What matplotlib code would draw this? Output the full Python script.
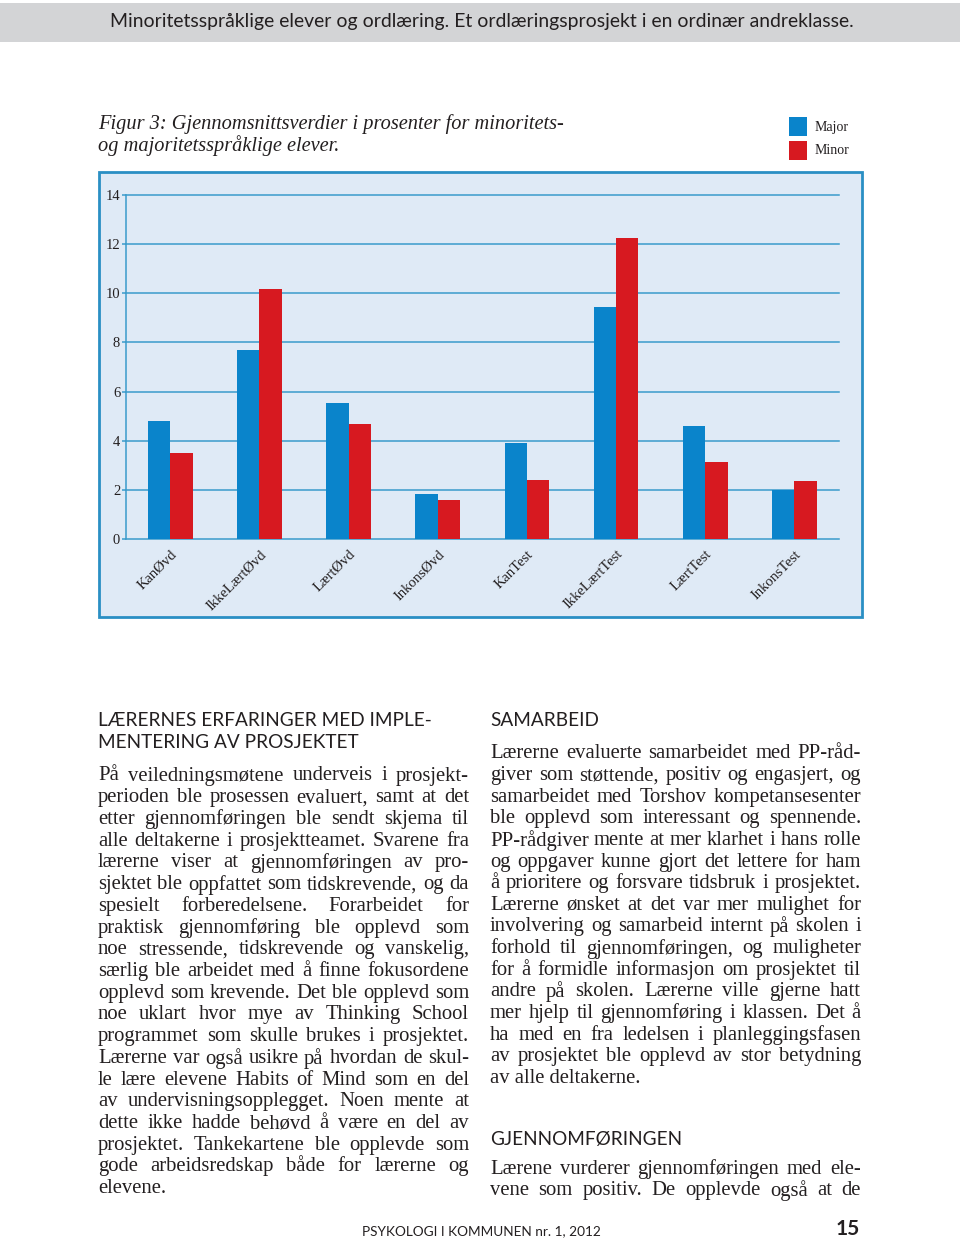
import matplotlib
matplotlib.use('Agg')
import matplotlib.pyplot as plt
import numpy as np
from matplotlib.patches import Rectangle

# ---------------- data ----------------
categories = ['KanØvd', 'IkkeLærtØvd', 'LærtØvd', 'InkonsØvd',
              'KanTest', 'IkkeLærtTest', 'LærtTest', 'InkonsTest']
major = [4.8, 7.7, 5.55, 1.85, 3.9, 9.45, 4.6, 2.0]
minor = [3.5, 10.15, 4.7, 1.6, 2.4, 12.25, 3.15, 2.35]
yticks = [0, 2, 4, 6, 8, 10, 12, 14]
series_names = ['Major', 'Minor']

header_text = 'Minoritetsspråklige elever og ordlæring. Et ordlæringsprosjekt i en ordinær andreklasse.'
caption_lines = ['Figur 3: Gjennomsnittsverdier i prosenter for minoritets-',
                 'og majoritetsspråklige elever.']
left_heading = ['LÆRERNES ERFARINGER MED IMPLE-', 'MENTERING AV PROSJEKTET']
left_body = [
    'På veiledningsmøtene underveis i prosjekt-',
    'perioden ble prosessen evaluert, samt at det',
    'etter gjennomføringen ble sendt skjema til',
    'alle deltakerne i prosjektteamet. Svarene fra',
    'lærerne viser at gjennomføringen av pro-',
    'sjektet ble oppfattet som tidskrevende, og da',
    'spesielt forberedelsene. Forarbeidet for',
    'praktisk gjennomføring ble opplevd som',
    'noe stressende, tidskrevende og vanskelig,',
    'særlig ble arbeidet med å finne fokusordene',
    'opplevd som krevende. Det ble opplevd som',
    'noe uklart hvor mye av Thinking School',
    'programmet som skulle brukes i prosjektet.',
    'Lærerne var også usikre på hvordan de skul-',
    'le lære elevene Habits of Mind som en del',
    'av undervisningsopplegget. Noen mente at',
    'dette ikke hadde behøvd å være en del av',
    'prosjektet. Tankekartene ble opplevde som',
    'gode arbeidsredskap både for lærerne og',
    'elevene.',
]
right_heading1 = 'SAMARBEID'
right_body1 = [
    'Lærerne evaluerte samarbeidet med PP-råd-',
    'giver som støttende, positiv og engasjert, og',
    'samarbeidet med Torshov kompetansesenter',
    'ble opplevd som interessant og spennende.',
    'PP-rådgiver mente at mer klarhet i hans rolle',
    'og oppgaver kunne gjort det lettere for ham',
    'å prioritere og forsvare tidsbruk i prosjektet.',
    'Lærerne ønsket at det var mer mulighet for',
    'involvering og samarbeid internt på skolen i',
    'forhold til gjennomføringen, og muligheter',
    'for å formidle informasjon om prosjektet til',
    'andre på skolen.  Lærerne ville gjerne hatt',
    'mer hjelp til gjennomføring i klassen. Det å',
    'ha med en fra ledelsen i planleggingsfasen',
    'av prosjektet ble opplevd av stor betydning',
    'av alle deltakerne.',
]
right_heading2 = 'GJENNOMFØRINGEN'
right_body2 = [
    'Lærene vurderer gjennomføringen med ele-',
    'vene som positiv. De opplevde også at de',
]
footer_text = 'PSYKOLOGI I KOMMUNEN nr. 1, 2012'
page_no = '15'

# ---------------- styles ----------------
W, H = 960, 1241
BLUE = '#0a84cb'
RED = '#d71920'
FRAME = '#2a8fc4'
GRID = '#3a9bcb'
BG = '#dfeaf6'
INK = '#231f20'
SERIF = 'Liberation Serif'
SANS = 'Lato'

fig = plt.figure(figsize=(W / 100, H / 100), dpi=100)
fig.patch.set_facecolor('white')
page = fig.add_axes([0, 0, 1, 1])
page.set_xlim(0, W)
page.set_ylim(H, 0)
page.axis('off')
r = fig.canvas.get_renderer()


def width_of(t):
    return t.get_window_extent(r).width


def fit(x, y, s, target, **kw):
    t = page.text(x, y, s, ha='left', va='center', **kw)
    t.set_fontsize(t.get_fontsize() * target / width_of(t))
    return t


def natural_width(line, size):
    t = page.text(0, 0, line, fontsize=size, family=SERIF)
    w = width_of(t)
    t.remove()
    return w


def para(lines, x0, x1, y0, dy, size, last_free):
    for i, line in enumerate(lines):
        y = y0 + i * dy
        if last_free and i == len(lines) - 1:
            page.text(x0, y, line, ha='left', va='center', fontsize=size,
                      family=SERIF, color=INK)
            continue
        words = line.split()
        ts = [page.text(0, y, w, ha='left', va='center', fontsize=size,
                        family=SERIF, color=INK) for w in words]
        ws = [width_of(t) for t in ts]
        gap = (x1 - x0 - sum(ws)) / max(len(words) - 1, 1)
        x = x0
        for t, w in zip(ts, ws):
            t.set_x(x)
            x += w + gap


# header band
page.add_patch(Rectangle((0, 3), W, 38.5, facecolor='#d3d4d6', edgecolor='none'))
fit(110, 22, header_text, 742, family=SANS, color=INK)

# caption
cap = fit(98, 124, caption_lines[0], 467, family=SERIF, style='italic', color=INK)
page.text(98, 146, caption_lines[1], ha='left', va='center', family=SERIF,
          style='italic', color=INK, fontsize=cap.get_fontsize())

# legend
for i, (name, col) in enumerate(zip(series_names, [BLUE, RED])):
    y = 117 + i * 24
    page.add_patch(Rectangle((789, y), 18, 19, facecolor=col, edgecolor='none'))
    page.text(815, y + 10, name, ha='left', va='center', family=SERIF,
              fontsize=10, color=INK)

# chart frame
page.add_patch(Rectangle((98.5, 172), 763, 445, facecolor=BG, edgecolor=FRAME,
                         linewidth=2))

# chart axes
ax = fig.add_axes([125.7 / W, 1 - 539.3 / H, (839 - 125.7) / W, (539.3 - 194.7) / H])
ax.set_facecolor('none')
x = np.arange(len(categories))
ax.set_axisbelow(True)
ax.bar(x - 0.125, major, 0.25, color=BLUE, zorder=3)
ax.bar(x + 0.125, minor, 0.25, color=RED, zorder=3)
ax.set_xlim(-0.5, 7.5)
ax.set_ylim(0, 14)
ax.set_yticks(yticks)
ax.set_yticklabels([str(v) for v in yticks], family=SERIF, fontsize=10.5, color=INK)
ax.yaxis.grid(True, color=GRID, linewidth=1.1)
for gl in ax.yaxis.get_gridlines():
    gl.set_clip_on(False)
for s in ['top', 'right', 'bottom']:
    ax.spines[s].set_visible(False)
ax.spines['left'].set_color(GRID)
ax.spines['left'].set_linewidth(1.1)
ax.tick_params(axis='y', direction='out', length=3, width=1.1, color=GRID, pad=1)
ax.set_xticks(x)
ax.set_xticklabels(categories, rotation=45, ha='right', rotation_mode='anchor',
                   family=SERIF, fontsize=10.5, color=INK)
ax.tick_params(axis='x', length=0, pad=6)

# body size: largest size at which every justified line still fits its column
COLW = 371
justified = left_body[:-1] + right_body1[:-1] + right_body2
BASE = 12
BODY = BASE * (COLW - 2) / max(natural_width(l, BASE) for l in justified)

# left column
hd = fit(98, 721, left_heading[0], 330, family=SANS, color=INK)
hsize = hd.get_fontsize()
page.text(98, 743, left_heading[1], ha='left', va='center', family=SANS,
          fontsize=hsize, color=INK)
para(left_body, 98, 469, 776, 21.72, BODY, True)

# right column
page.text(490, 721, right_heading1, ha='left', va='center', family=SANS,
          fontsize=hsize, color=INK)
para(right_body1, 490, 861, 754, 21.62, BODY, True)
page.text(490, 1139, right_heading2, ha='left', va='center', family=SANS,
          fontsize=hsize, color=INK)
para(right_body2, 490, 861, 1169, 21.7, BODY, False)

# footer
fit(362, 1231, footer_text, 238, family=SANS, color=INK)
page.text(860, 1229, page_no, ha='right', va='center', family=SANS,
          weight='bold', fontsize=15, color=INK)

fig.savefig('out.png', dpi=100)
